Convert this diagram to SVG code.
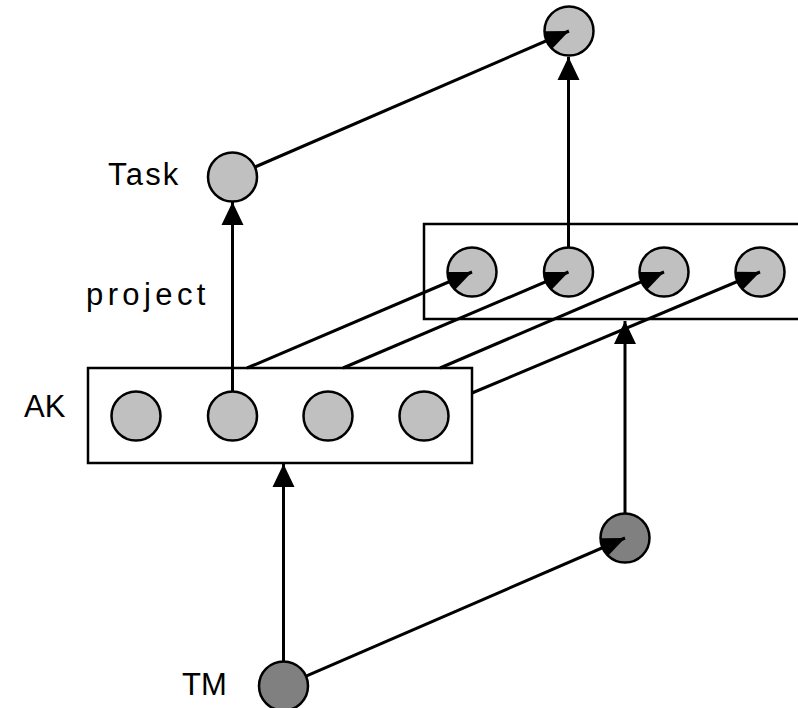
<svg xmlns="http://www.w3.org/2000/svg" width="798" height="708" viewBox="0 0 798 708">
<style>
.n{fill:#c0c0c0;stroke:#000;stroke-width:2.5}
.d{fill:#808080;stroke:#000;stroke-width:2.5}
.box{fill:none;stroke:#000;stroke-width:2.5}
.c{stroke:#000;stroke-width:3;fill:none}
.a{marker-end:url(#arrow)}
.w{marker-end:url(#wedge)}
text{font-family:"Liberation Sans",Arial,sans-serif;font-size:31px;fill:#000}
</style>
<defs>
<marker id="arrow" markerUnits="userSpaceOnUse" markerWidth="24" markerHeight="22" refX="23" refY="11" orient="auto" overflow="visible">
<path d="M0,0 L23,11 L0,22 Z" fill="#000"/>
</marker>
<marker id="wedge" markerUnits="userSpaceOnUse" markerWidth="26" markerHeight="22" refX="25" refY="11" orient="auto" overflow="visible">
<path d="M25,11 L2.5,1.4 A24.5,24.5 0 0 0 2.5,20.6 Z" fill="#000"/>
</marker>
</defs>
<rect width="798" height="708" fill="#fff"/>
<g id="labels">
<text x="108" y="185" letter-spacing="2.2">Task</text>
<text x="86" y="305" letter-spacing="4.4">project</text>
<text x="24" y="417">AK</text>
<text x="182" y="695">TM</text>
</g>
<g id="upper-box"><rect class="box" x="424" y="224" width="400" height="95"/></g>
<g id="lower-box"><rect class="box" x="88" y="368" width="384" height="95"/></g>
<g id="top"><circle class="n" cx="569" cy="31" r="24.5"/></g>
<g id="task"><circle class="n" cx="232.5" cy="177" r="24.5"/></g>
<g id="u1"><circle class="n" cx="472" cy="272" r="24.5"/></g>
<g id="u2"><circle class="n" cx="568.5" cy="272" r="24.5"/></g>
<g id="u3"><circle class="n" cx="664" cy="272" r="24.5"/></g>
<g id="u4"><circle class="n" cx="760" cy="272" r="24.5"/></g>
<g id="l1"><circle class="n" cx="136" cy="416" r="24.5"/></g>
<g id="l2"><circle class="n" cx="232.5" cy="416" r="24.5"/></g>
<g id="l3"><circle class="n" cx="328" cy="416" r="24.5"/></g>
<g id="l4"><circle class="n" cx="424" cy="416" r="24.5"/></g>
<g id="dark"><circle class="d" cx="625" cy="538" r="24.5"/></g>
<g id="tm"><circle class="d" cx="283.5" cy="686" r="24.5"/></g>
<g id="connectors">
<line class="c a" x1="283.5" y1="661.5" x2="283.5" y2="464"/>
<line class="c a" x1="625" y1="513.5" x2="625" y2="321"/>
<line class="c a" x1="232.5" y1="391.5" x2="232.5" y2="202"/>
<line class="c a" x1="568.5" y1="247.5" x2="568.5" y2="57"/>
<line class="c w" x1="305.5" y1="676.3" x2="625" y2="538"/>
<line class="c w" x1="255" y1="167" x2="569" y2="31"/>
<line class="c w" x1="247" y1="368" x2="472" y2="272"/>
<line class="c w" x1="343" y1="368" x2="568.5" y2="272"/>
<line class="c w" x1="440" y1="368" x2="664" y2="272"/>
<line class="c w" x1="472" y1="393" x2="760" y2="272"/>
</g>
</svg>
